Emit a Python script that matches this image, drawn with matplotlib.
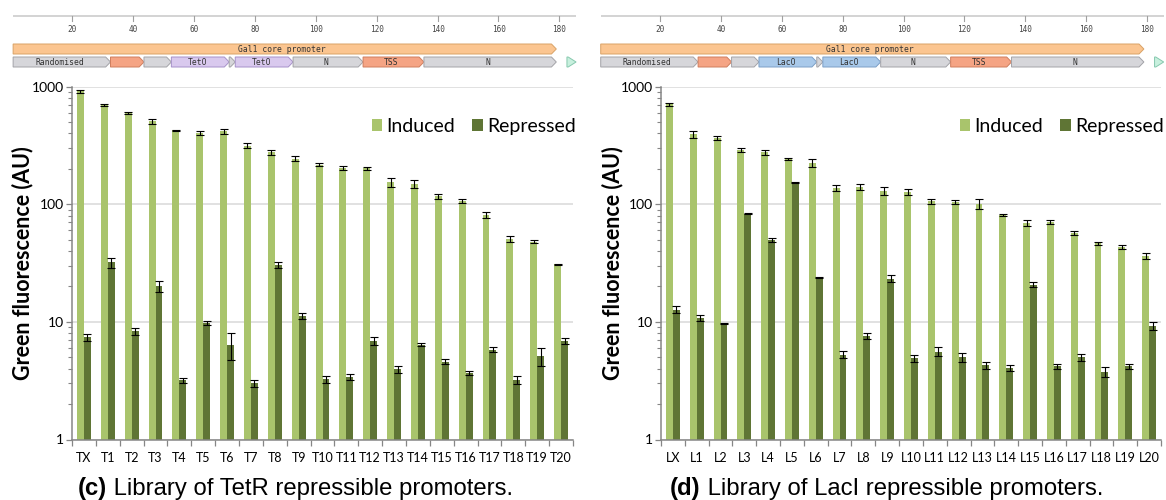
import matplotlib
matplotlib.use("Agg")
import matplotlib.pyplot as plt
import numpy as np
from matplotlib.patches import Polygon, Patch
from matplotlib.ticker import FixedLocator, NullFormatter

# ---------------------------------------------------------------- data
tetr_labels = ["TX"] + ["T%d" % i for i in range(1, 21)]
tetr_induced = [912, 693, 597, 505, 423, 404, 415, 315, 275, 243, 216,
                202, 201, 153, 149, 117, 107, 81, 51, 48, 31]
tetr_induced_err = [30, 16, 16, 25, 3, 17, 19, 13, 12, 12, 7,
                    8, 4, 13, 12, 6, 4, 4, 3, 1.3, 0.3]
tetr_repressed = [7.4, 32, 8.3, 20, 3.2, 9.8, 6.4, 3.0, 30.5, 11.2, 3.25,
                  3.4, 6.9, 3.95, 6.4, 4.6, 3.7, 5.8, 3.2, 5.1, 6.85]
tetr_repressed_err = [0.5, 3.2, 0.53, 2.2, 0.16, 0.45, 1.65, 0.2, 2.0, 0.7, 0.2,
                      0.2, 0.6, 0.25, 0.2, 0.25, 0.15, 0.3, 0.25, 0.9, 0.4]

laci_labels = ["LX"] + ["L%d" % i for i in range(1, 21)]
laci_induced = [707, 393, 365, 289, 276, 242, 224, 137, 140, 130, 127,
                106, 105, 101, 81, 69, 71, 57, 46.5, 43.3, 36.3]
laci_induced_err = [21, 27, 15, 12, 13, 5, 17, 8, 7, 10, 8,
                    5, 4, 10, 1, 4, 3, 2, 1.5, 2, 2]
laci_repressed = [12.7, 10.8, 9.7, 83, 49.7, 152, 23.7, 5.27, 7.55, 23.2, 4.9,
                  5.58, 5.0, 4.27, 4.08, 20.7, 4.19, 5.03, 3.78, 4.19, 9.18]
laci_repressed_err = [0.8, 0.7, 0.1, 1, 2, 2, 0.3, 0.35, 0.45, 1.6, 0.3,
                      0.5, 0.4, 0.3, 0.25, 1, 0.2, 0.35, 0.35, 0.2, 0.7]

y_ticks = [1, 10, 100, 1000]
series_names = ["Induced", "Repressed"]

# promoter map (positions in bp)
ruler_span = (0.5, 185.5)
ruler_ticks = [20, 40, 60, 80, 100, 120, 140, 160, 180]
promoter_feature = (0.5, 179.0, "Gal1 core promoter")
tail_feature = (182.5, 185.5)
feature_starts = [0.5, 32.5, 43.5, 52.5, 71.5, 73.5, 92.5, 115.5, 135.5]
feature_ends = [32.5, 43.5, 52.5, 71.5, 73.5, 92.5, 115.5, 135.5, 179.0]
feature_kinds = ["misc", "region", "misc", "operator", "misc", "operator",
                 "misc", "region", "misc"]
feature_names = ["Randomised", "", "", "{op}", "", "{op}", "N", "TSS", "N"]

# ---------------------------------------------------------------- style
INDUCED = "#A9C46C"
REPRESSED = "#5F7535"
GRID = "#D9D9D9"
SPINE = "#868686"

W, H = 1166, 500
fig = plt.figure(figsize=(W / 100, H / 100), dpi=100)


def px_axes(x0, y0, x1, y1):
    return fig.add_axes([x0 / W, 1 - y1 / H, (x1 - x0) / W, (y1 - y0) / H])


def arrow_feature(ax, s, e, y0, y1, fill, edge, label="", tip=1.6):
    tip = min(tip, e - s)
    ym = (y0 + y1) / 2
    pts = [(s, y0), (e - tip, y0), (e, ym), (e - tip, y1), (s, y1)]
    ax.add_patch(Polygon(pts, closed=True, facecolor=fill, edgecolor=edge,
                         linewidth=0.7, joinstyle="miter"))
    if label:
        ax.text((s + e - tip) / 2, ym + 0.3, label, ha="center", va="center",
                fontsize=5.8, family="DejaVu Sans Mono", color="#333333")


def draw_map(ax, op_name, op_fill, op_edge):
    ax.set_xlim(0, 186)
    ax.set_ylim(72, 0)
    ax.axis("off")
    ax.plot(ruler_span, [16.2, 16.2], color="#C8C8C8", lw=1.1,
            solid_capstyle="butt")
    for t in ruler_ticks:
        ax.plot([t, t], [16.2, 21.3], color="#A0A0A0", lw=0.8)
        ax.text(t, 29, str(t), ha="center", va="center", fontsize=5.6,
                family="DejaVu Sans Mono", color="#444444")
    s, e, name = promoter_feature
    arrow_feature(ax, s, e, 44, 54, "#FBC590", "#D9A266", name)
    colours = {"misc": ("#D6D6DA", "#A3A3A8"),
               "region": ("#F5A484", "#CF7E5E"),
               "operator": (op_fill, op_edge)}
    for s, e, k, n in zip(feature_starts, feature_ends, feature_kinds,
                          feature_names):
        f, ed = colours[k]
        arrow_feature(ax, s, e, 57, 67, f, ed, n.format(op=op_name))
    arrow_feature(ax, tail_feature[0], tail_feature[1], 57, 67,
                  "#C8F0DE", "#86C8AE", tip=2.6)


def draw_bars(ax, labels, ind, ind_err, rep, rep_err):
    x = np.arange(len(labels))
    w = 0.29
    ekw = dict(ecolor="black", elinewidth=0.8, capsize=2.8, capthick=0.8)
    ax.set_yscale("log")
    ax.bar(x - w / 2, ind, w, yerr=ind_err, color=INDUCED, error_kw=ekw,
           zorder=3, label=series_names[0])
    ax.bar(x + w / 2, rep, w, yerr=rep_err, color=REPRESSED, error_kw=ekw,
           zorder=3, label=series_names[1])
    ax.set_ylim(1, 1000)
    ax.set_xlim(-0.5, len(labels) - 0.5)

    ax.yaxis.set_major_locator(FixedLocator(y_ticks))
    ax.set_yticklabels([str(v) for v in y_ticks])
    minors = [m * d for d in y_ticks[:-1] for m in range(2, 10)]
    ax.yaxis.set_minor_locator(FixedLocator(minors))
    ax.yaxis.set_minor_formatter(NullFormatter())
    ax.tick_params(axis="y", which="major", length=4, width=0.9,
                   color=SPINE, labelsize=10, pad=1.5)
    ax.tick_params(axis="y", which="minor", length=3, width=0.8, color=SPINE)

    ax.set_xticks(x)
    ax.set_xticklabels(labels)
    ax.xaxis.set_minor_locator(FixedLocator(np.arange(-0.5, len(labels), 1.0)))
    ax.tick_params(axis="x", which="major", length=0, labelsize=9, pad=9)
    ax.tick_params(axis="x", which="minor", length=4, width=0.9, color=SPINE)
    for lab in ax.get_xticklabels() + ax.get_yticklabels():
        lab.set_family("Lato")

    ax.grid(axis="y", which="major", color=GRID, lw=1.1, zorder=0)
    ax.set_axisbelow(True)
    for sp in ("top", "right"):
        ax.spines[sp].set_visible(False)
    for sp in ("left", "bottom"):
        ax.spines[sp].set_color(SPINE)
        ax.spines[sp].set_linewidth(1.1)
        ax.spines[sp].set_zorder(4)

    ax.text(-49 / 501, 0.5, "Green fluorescence (AU)", transform=ax.transAxes,
            rotation=90, ha="center", va="center", fontsize=15.5,
            fontweight="bold", family="Lato")

    handles = [Patch(facecolor=INDUCED), Patch(facecolor=REPRESSED)]
    ax.legend(handles, series_names, loc="center right", ncol=2,
              bbox_to_anchor=(1.021, 0.888), frameon=False,
              prop={"family": "Lato", "size": 14}, handlelength=0.55,
              handleheight=0.6, handletextpad=0.2, columnspacing=0.9,
              borderaxespad=0)


ax_c = px_axes(72, 86.5, 573, 439.5)
draw_bars(ax_c, tetr_labels, tetr_induced, tetr_induced_err,
          tetr_repressed, tetr_repressed_err)
ax_d = px_axes(661, 86.5, 1161, 439.5)
draw_bars(ax_d, laci_labels, laci_induced, laci_induced_err,
          laci_repressed, laci_repressed_err)

map_c = px_axes(11.6, 0, 11.6 + 566, 72)
draw_map(map_c, "TetO", "#D9C9EE", "#A691C9")
map_d = px_axes(599.2, 0, 599.2 + 566, 72)
draw_map(map_d, "LacO", "#A9C9EA", "#7C9FC6")

# captions: bold panel letter followed by regular text
renderer = fig.canvas.get_renderer()
for x0, tag, txt in [(78, "(c)", " Library of TetR repressible promoters."),
                     (670, "(d)", " Library of LacI repressible promoters.")]:
    t1 = fig.text(x0 / W, 5.5 / H, tag, ha="left", va="baseline",
                  fontsize=17.2, fontweight="bold", family="Liberation Sans")
    bb = t1.get_window_extent(renderer)
    fig.text(bb.x1 / W, 5.5 / H, txt, ha="left", va="baseline",
             fontsize=17.2, family="Liberation Sans")

fig.savefig("out.png", dpi=100)
